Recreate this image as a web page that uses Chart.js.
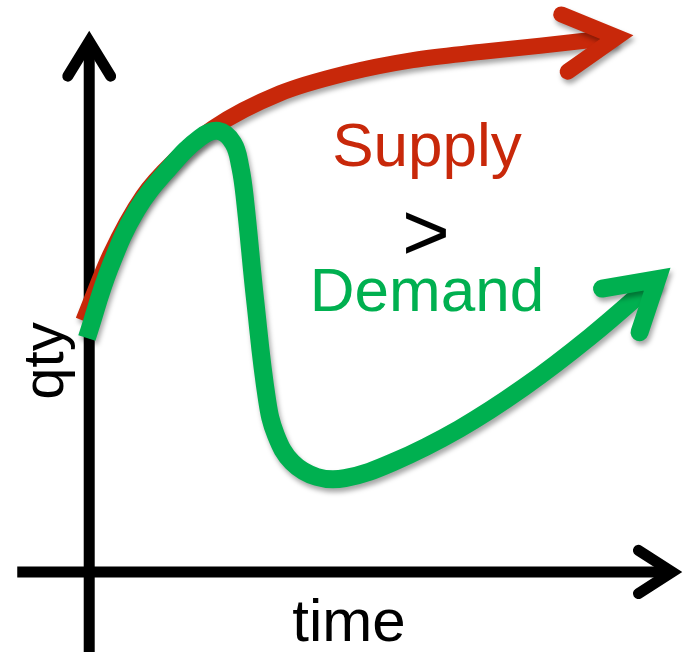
<!DOCTYPE html>
<html>
<head>
<meta charset="utf-8">
<script src="https://cdn.jsdelivr.net/npm/chart.js@4"></script>
<style>
  html, body { margin: 0; padding: 0; background: #fff; }
  #chart { display: block; }
</style>
</head>
<body>
<canvas id="chart" width="684" height="652"></canvas>
<script>
// schematic values (time / qty, arbitrary units, origin = axis crossing)
const supplyTime = [-0.10, 0.35, 0.90, 1.48, 2.08, 3.21, 4.33, 5.44, 6.57, 7.58, 8.87];
const supplyQty  = [ 4.39, 5.54, 6.57, 7.24, 7.76, 8.37, 8.72, 8.95, 9.09, 9.20, 9.35];

const demandTime = [-0.04, 0.35, 0.80, 1.36, 1.86, 2.17, 2.42, 2.54, 2.62, 2.79, 2.99, 3.14, 3.41, 3.83, 4.30, 5.11, 6.22, 7.31, 8.42, 9.55];
const demandQty  = [ 4.09, 5.33, 6.33, 7.08, 7.59, 7.71, 7.50, 7.08, 6.50, 4.75, 3.01, 2.39, 1.92, 1.66, 1.64, 1.92, 2.50, 3.23, 4.11, 5.12];

const timeRange = [-1.5, 10];
const qtyRange = [-1.4, 10];
const timeAxisEnds = [-1.21, 9.80];
const qtyAxisEnd = 9.28;

const labels = { x: 'time', y: 'qty', supply: 'Supply', gt: '>', demand: 'Demand' };

const RED = '#c8280a';
const GREEN = '#00b050';

const toPts = (xs, ys) => xs.map((x, i) => ({ x: x, y: ys[i] }));

function chevron(ctx, tipX, tipY, dx, dy, len, ang) {
  const a = Math.atan2(-dy, -dx);
  ctx.beginPath();
  ctx.moveTo(tipX + len * Math.cos(a + ang), tipY + len * Math.sin(a + ang));
  ctx.lineTo(tipX, tipY);
  ctx.lineTo(tipX + len * Math.cos(a - ang), tipY + len * Math.sin(a - ang));
  ctx.stroke();
}

const arrowHeads = {
  id: 'arrowHeads',
  beforeDatasetDraw(chart, args) {
    const ctx = chart.ctx;
    ctx.save();
    ctx.shadowColor = 'rgba(0,0,0,0.35)';
    ctx.shadowBlur = 5;
    ctx.shadowOffsetX = 2;
    ctx.shadowOffsetY = 4;
  },
  afterDatasetDraw(chart, args) {
    const ctx = chart.ctx;
    const ds = chart.data.datasets[args.index];
    const pts = args.meta.data;
    const last = pts[pts.length - 1];
    const prev = pts[pts.length - 2];
    let dx = last.x - (last.cp1x !== undefined ? last.cp1x : prev.x);
    let dy = last.y - (last.cp1y !== undefined ? last.cp1y : prev.y);
    if (Math.abs(dx) + Math.abs(dy) < 0.01) { dx = last.x - prev.x; dy = last.y - prev.y; }
    ctx.strokeStyle = ds.borderColor;
    ctx.lineWidth = ds.borderWidth;
    ctx.lineCap = 'round';
    ctx.lineJoin = 'miter';
    ctx.miterLimit = 10;
    chevron(ctx, last.x, last.y, dx, dy, ds.arrowLen, ds.arrowAng);
    ctx.restore();
  }
};

const axesAndText = {
  id: 'axesAndText',
  beforeDatasetsDraw(chart) {
    const ctx = chart.ctx;
    const xs = chart.scales.x, ys = chart.scales.y;
    const x0 = xs.getPixelForValue(0), y0 = ys.getPixelForValue(0);
    ctx.save();
    ctx.strokeStyle = '#000';
    ctx.lineWidth = 11;
    ctx.lineCap = 'butt';
    // qty axis
    const yTop = ys.getPixelForValue(qtyAxisEnd);
    ctx.beginPath();
    ctx.moveTo(x0, chart.height);
    ctx.lineTo(x0, yTop);
    ctx.stroke();
    // time axis
    const xL = xs.getPixelForValue(timeAxisEnds[0]);
    const xR = xs.getPixelForValue(timeAxisEnds[1]);
    ctx.beginPath();
    ctx.moveTo(xL, y0);
    ctx.lineTo(xR, y0);
    ctx.stroke();
    ctx.lineCap = 'round';
    ctx.lineJoin = 'miter';
    ctx.miterLimit = 10;
    chevron(ctx, x0, yTop, 0, -1, 41, 0.55);
    chevron(ctx, xR, y0, 1, 0, 40, 0.57);

    ctx.fillStyle = '#000';
    ctx.textAlign = 'center';
    ctx.textBaseline = 'alphabetic';
    ctx.font = '60px "Liberation Sans", Arial, sans-serif';
    ctx.fillText(labels.x, 349, 641);
    ctx.save();
    ctx.translate(63, 361);
    ctx.rotate(-Math.PI / 2);
    ctx.font = '58px "Liberation Sans", Arial, sans-serif';
    ctx.fillText(labels.y, 0, 0);
    ctx.restore();

    ctx.font = '62px "Liberation Sans", Arial, sans-serif';
    ctx.fillStyle = RED;
    ctx.fillText(labels.supply, 427, 166);
    ctx.fillStyle = GREEN;
    ctx.fillText(labels.demand, 427, 311);
    ctx.fillStyle = '#000';
    ctx.font = '82px "Liberation Sans", Arial, sans-serif';
    ctx.fillText(labels.gt, 426, 260);
    ctx.restore();
  }
};

new Chart(document.getElementById('chart'), {
  type: 'line',
  data: {
    datasets: [
      {
        label: labels.demand,
        data: toPts(demandTime, demandQty),
        borderColor: GREEN,
        borderWidth: 18,
        borderCapStyle: 'butt',
        borderJoinStyle: 'round',
        tension: 0.4,
        pointRadius: 0,
        fill: false,
        clip: false,
        order: 0,
        arrowLen: 56,
        arrowAng: 0.54
      },
      {
        label: labels.supply,
        data: toPts(supplyTime, supplyQty),
        borderColor: RED,
        borderWidth: 16,
        borderCapStyle: 'butt',
        borderJoinStyle: 'round',
        cubicInterpolationMode: 'monotone',
        pointRadius: 0,
        fill: false,
        clip: false,
        order: 1,
        arrowLen: 60,
        arrowAng: 0.5
      }
    ]
  },
  options: {
    responsive: false,
    animation: false,
    layout: { padding: 0 },
    scales: {
      x: { type: 'linear', min: timeRange[0], max: timeRange[1], display: false },
      y: { type: 'linear', min: qtyRange[0], max: qtyRange[1], display: false }
    },
    plugins: {
      legend: { display: false },
      tooltip: { enabled: false },
      title: { display: false }
    }
  },
  plugins: [axesAndText, arrowHeads]
});
</script>
</body>
</html>
